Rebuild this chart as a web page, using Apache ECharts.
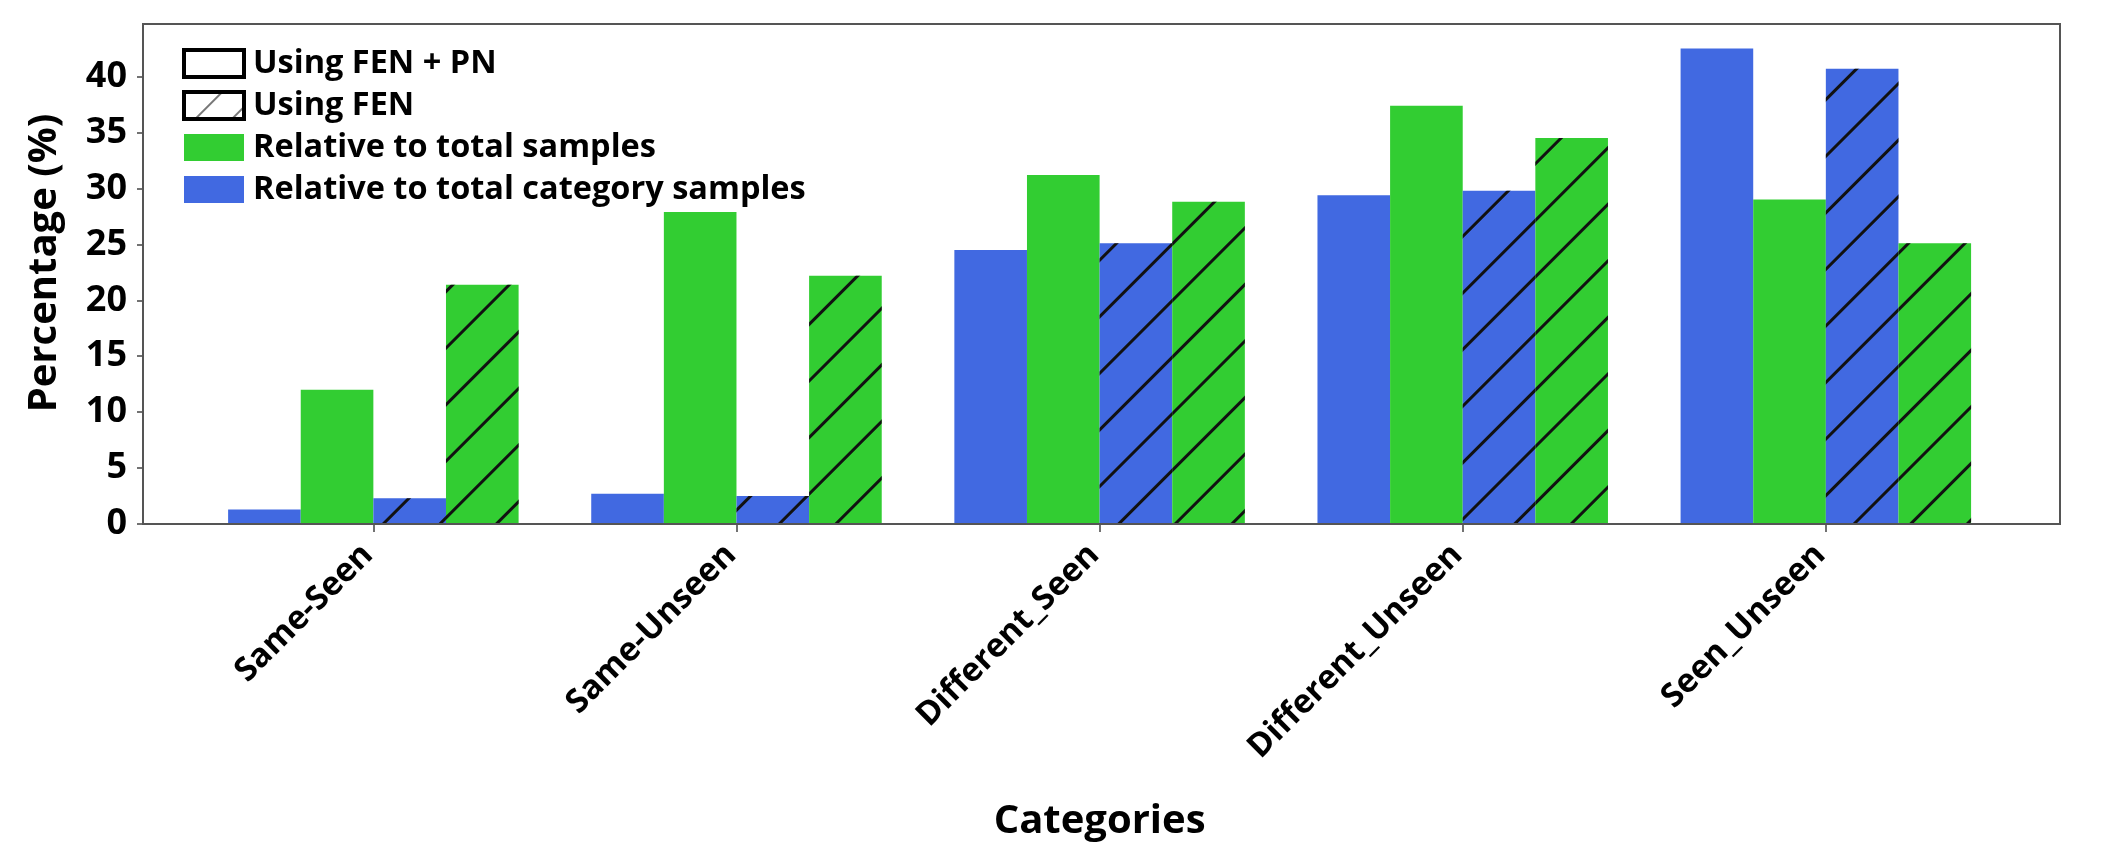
<!DOCTYPE html>
<html>
<head>
<meta charset="utf-8">
<script src="https://cdn.jsdelivr.net/npm/echarts@6/dist/echarts.min.js"></script>
<style>
html,body{margin:0;padding:0;background:#fff;}
#chart{width:2120px;height:857px;}
</style>
</head>
<body>
<div id="chart"></div>
<script>
// ---- data ----
var categories = ['Same-Seen', 'Same-Unseen', 'Different_Seen', 'Different_Unseen', 'Seen_Unseen'];
var fenPnCategory = [1.3, 2.7, 24.5, 29.4, 42.5];   // Using FEN + PN, relative to total category samples
var fenPnTotal    = [12.0, 27.9, 31.2, 37.4, 29.0]; // Using FEN + PN, relative to total samples
var fenCategory   = [2.3, 2.5, 25.1, 29.8, 40.7];   // Using FEN, relative to total category samples
var fenTotal      = [21.4, 22.2, 28.8, 34.5, 25.1]; // Using FEN, relative to total samples
var yTicks = [0, 5, 10, 15, 20, 25, 30, 35, 40];
var legendNames = ['Using FEN + PN', 'Using FEN', 'Relative to total samples', 'Relative to total category samples'];

var BLUE = '#4169E1', GREEN = '#32CD32';
var FONT = 'Open Sans';
var hatch = {
  symbol: 'rect', symbolSize: 1,
  dashArrayX: [[10, 0]], dashArrayY: [2.6, 36.4],
  rotation: -Math.PI / 4, color: '#111'
};
var hatchLegend = {
  symbol: 'rect', symbolSize: 1,
  dashArrayX: [[10, 0]], dashArrayY: [1.5, 24],
  rotation: -Math.PI / 4, color: '#777'
};

var chart = echarts.init(document.getElementById('chart'), null, {renderer: 'canvas'});
var option = {
  animation: false,
  backgroundColor: '#fff',
  grid: [
    {left: 191.8, right: 112.6, top: 24, bottom: 333, containLabel: false},
    {left: 143, right: 60, top: 24, bottom: 333, show: true, borderColor: '#555', borderWidth: 2, backgroundColor: 'transparent', z: 5}
  ],
  legend: {
    orient: 'vertical', left: 177, top: 42,
    itemWidth: 60, itemHeight: 27, itemGap: 9,
    data: legendNames.map(function (n, i) {
      return i < 2
        ? {name: n, icon: 'rect', itemStyle: {borderWidth: 4, borderColor: '#000'}}
        : {name: n, icon: 'rect', itemStyle: {borderWidth: 0}};
    }),
    textStyle: {fontFamily: FONT, fontWeight: 'bold', fontSize: 32.5, color: '#000', lineHeight: 28, padding: [0, 0, 0, 4]},
    selectedMode: false
  },
  xAxis: [
    {
      type: 'category', gridIndex: 0, data: categories,
      axisLine: {show: false},
      axisTick: {show: true, alignWithLabel: true, length: 8, lineStyle: {color: '#444', width: 1.5}},
      axisLabel: {interval: 0, rotate: 45, margin: 20, padding: [0, 8, 0, 0], fontFamily: FONT, fontWeight: 'bold', fontSize: 33, color: '#000'},
      name: 'Categories', nameLocation: 'middle', nameGap: 278,
      nameTextStyle: {fontFamily: FONT, fontWeight: 'bold', fontSize: 40, color: '#000'}
    },
    {type: 'value', gridIndex: 1, show: false, min: 0, max: 1}
  ],
  yAxis: [
    {
      type: 'value', gridIndex: 0, min: 0, max: 44.7, offset: 48.8,
      axisLine: {show: false},
      splitLine: {show: false},
      axisTick: {show: true, length: 6, customValues: yTicks, lineStyle: {color: '#444', width: 1.5}},
      axisLabel: {margin: 16, customValues: yTicks, fontFamily: FONT, fontWeight: 'bold', fontSize: 36, color: '#000'},
      name: 'Percentage (%)', nameLocation: 'middle', nameGap: 78,
      nameTextStyle: {fontFamily: FONT, fontWeight: 'bold', fontSize: 40, color: '#000', padding: [0, 0, 0, 22]}
    },
    {type: 'value', gridIndex: 1, show: false, min: 0, max: 1}
  ],
  series: [
    {name: 'Relative to total category samples', type: 'bar', xAxisIndex: 0, yAxisIndex: 0, data: fenPnCategory,
      barCategoryGap: '20%', barGap: '0%', itemStyle: {color: BLUE}},
    {name: 'Relative to total samples', type: 'bar', xAxisIndex: 0, yAxisIndex: 0, data: fenPnTotal,
      barCategoryGap: '20%', barGap: '0%', itemStyle: {color: GREEN}},
    {name: 'FEN category', type: 'bar', xAxisIndex: 0, yAxisIndex: 0, data: fenCategory,
      barCategoryGap: '20%', barGap: '0%', itemStyle: {color: BLUE, decal: hatch}},
    {name: 'FEN total', type: 'bar', xAxisIndex: 0, yAxisIndex: 0, data: fenTotal,
      barCategoryGap: '20%', barGap: '0%', itemStyle: {color: GREEN, decal: hatch}},
    {name: 'Using FEN + PN', type: 'bar', xAxisIndex: 1, yAxisIndex: 1, data: [],
      itemStyle: {color: '#fff', borderColor: '#000', borderWidth: 4}},
    {name: 'Using FEN', type: 'bar', xAxisIndex: 1, yAxisIndex: 1, data: [],
      itemStyle: {color: '#fff', borderColor: '#000', borderWidth: 4, decal: hatchLegend}}
  ]
};
chart.setOption(option);
</script>
</body>
</html>
